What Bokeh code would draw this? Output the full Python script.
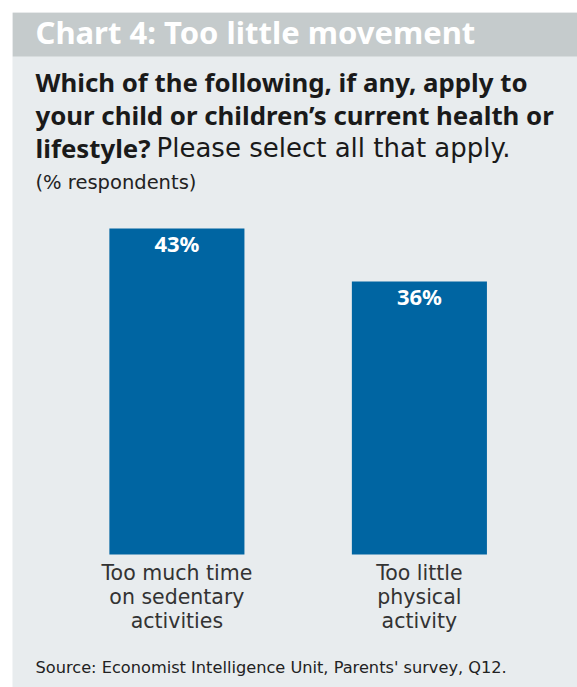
from bokeh.plotting import figure
from bokeh.models import FactorRange, Range1d, Label, ColumnDataSource, BoxAnnotation
from bokeh.transform import dodge
from bokeh.embed import file_html
from bokeh.resources import INLINE
from bokeh.core.properties import value

# ---- data ----
title_text = "Chart 4: Too little movement"
question_lines = ["Which of the following, if any, apply to",
                  "your child or children\u2019s current health or"]
question_bold_end = "lifestyle?"
question_rest = "Please select all that apply."
unit_note = "(% respondents)"
source_note = "Source: Economist Intelligence Unit, Parents' survey, Q12."
categories = ["Too much time\non sedentary\nactivities", "Too little\nphysical\nactivity"]
values = [43, 36]
value_labels = [f"{v}%" for v in values]

BOLD_FONT = "Noto Sans"
REG_FONT = "DejaVu Sans"
BAR = "#0065a2"
PANEL = "#e8ecee"
HEAD = "#c5cbcc"

W, H = 565, 675
src = ColumnDataSource(dict(cat=categories, val=values, lab=value_labels))
p = figure(width=W, height=H,
           x_range=FactorRange(*categories, range_padding=0.165, range_padding_units="absolute"),
           y_range=Range1d(-17.55, 71.5),
           toolbar_location=None, output_backend="svg",
           x_axis_location=None, y_axis_location=None,
           min_border=0, background_fill_color=PANEL, border_fill_color=PANEL,
           outline_line_color=None, margin=(12, 0, 0, 12))
p.grid.visible = False

# header band (top 44 px of the panel)
p.add_layout(BoxAnnotation(bottom=H - 44, bottom_units="screen", fill_color=HEAD,
                           fill_alpha=1.0, line_alpha=0, level="underlay"))

xpos = dodge("cat", 0.013, range=p.x_range)
p.vbar(x=xpos, top="val", bottom=0, width=0.557, source=src, color=BAR, line_color=None)
p.text(x=xpos, y="val", text="lab", source=src, y_offset=-1, text_align="center",
       text_baseline="top", text_font=value(BOLD_FONT), text_font_style="bold",
       text_font_size="22px", text_color="white")
p.text(x=xpos, y=0, text="cat", source=src, y_offset=7, text_align="center",
       text_baseline="top", text_font=value(REG_FONT), text_font_size="20.5px",
       text_color="#333333", text_line_height=1.0)

OX, OY = 12, 12  # canvas position of the figure

def lab(text, x, base_y, size, bold=False, color="#1a1a1a"):
    y = base_y - 0.42 * size  # compensate baseline placement
    p.add_layout(Label(x=x - OX, y=(H + OY) - y, x_units="screen", y_units="screen",
                       text=text, text_font=BOLD_FONT if bold else REG_FONT,
                       text_font_style="bold" if bold else "normal",
                       text_font_size=f"{size}px", text_color=color,
                       text_baseline="alphabetic"))

lab(title_text, 35, 45, 31, True, "white")
lab(question_lines[0], 35, 92, 25.8, True)
lab(question_lines[1], 35, 125, 25.8, True)
lab(question_bold_end, 35, 158, 25.8, True)
lab(question_rest, 156, 158, 26, False)
lab(unit_note, 35, 190, 19.5, False, "#222222")
lab(source_note, 35, 674, 16.2, False, "#222222")

open("out.html", "w").write(file_html(p, INLINE))
